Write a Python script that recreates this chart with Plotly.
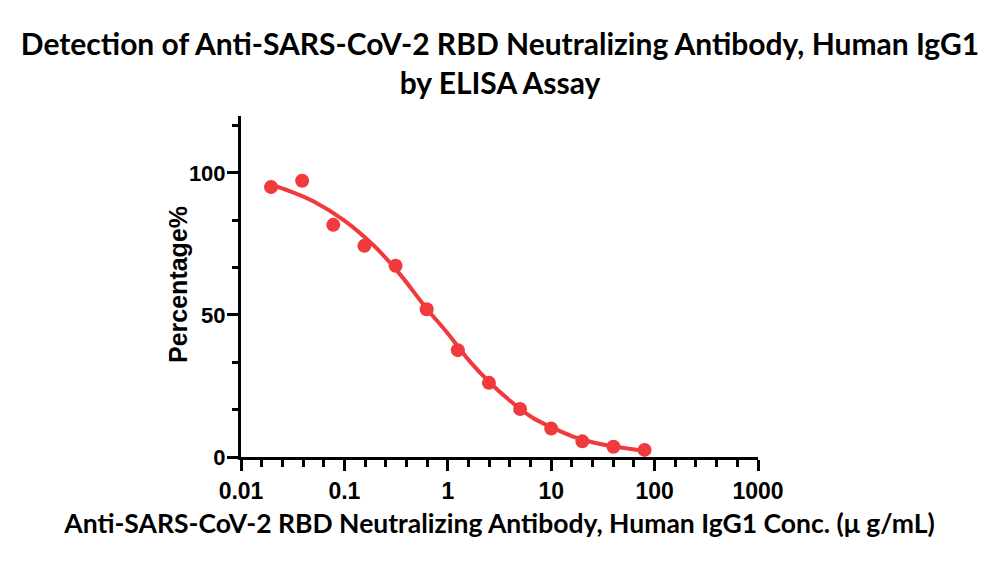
import plotly.graph_objects as go

# Measured data (concentration in µg/mL, percentage)
conc = [0.0195, 0.039, 0.078, 0.156, 0.3125, 0.625, 1.25, 2.5, 5, 10, 20, 40, 80]
pct = [95.0, 97.2, 81.7, 74.3, 67.3, 52.0, 37.6, 26.1, 16.9, 10.0, 5.5, 3.6, 2.5]

# Fitted curve
curve_x = [0.0195, 0.03, 0.05, 0.1, 0.2, 0.35, 0.6, 1.0, 1.6, 2.5, 4.0, 6.5, 10, 16, 25, 40, 80]
curve_y = [95.8, 93.5, 90.0, 83.2, 73.8, 64.0, 53.0, 43.5, 34.0, 26.5, 19.8, 14.0, 10.5, 7.3, 5.2, 3.7, 2.2]

x_tickvals = [0.01, 0.1, 1, 10, 100, 1000]
x_ticktext = ["0.01", "0.1", "1", "10", "100", "1000"]
y_tickvals = [0, 50, 100]

title_text = "Detection of Anti-SARS-CoV-2 RBD Neutralizing Antibody, Human IgG1<br>by ELISA Assay"
x_title = "Anti-SARS-CoV-2 RBD Neutralizing Antibody, Human IgG1 Conc. (\u03bc g/mL)"
y_title = "Percentage%"

red = "#F03A3E"
calib = "Lato, Carlito, Calibri, sans-serif"
arial = "Liberation Sans, Arial, sans-serif"
xtickfont = dict(family=arial, size=23, color="black", weight="bold")
ytickfont = dict(family=arial, size=22, color="black", weight="bold")

W, H = 992, 556  # page body adds an 8px margin
L, R, T, B = 233, 242, 108, 107
plot_w, plot_h = W - L - R, H - T - B

fig = go.Figure()
fig.add_trace(go.Scatter(x=curve_x, y=curve_y, mode="lines",
                         line=dict(color=red, width=4, shape="spline"),
                         hoverinfo="skip", showlegend=False))
fig.add_trace(go.Scatter(x=conc, y=pct, mode="markers",
                         marker=dict(color=red, size=14, line=dict(width=0)),
                         showlegend=False))

fig.update_layout(
    width=W, height=H,
    margin=dict(l=L, r=R, t=T, b=B),
    paper_bgcolor="white", plot_bgcolor="white",
    title=dict(text="<b>" + title_text + "</b>", x=492 / W, xanchor="center",
               y=1 - 47 / H, yanchor="top",
               font=dict(family=calib, size=30, color="black")),
)

fig.add_annotation(
    text="<b>" + y_title + "</b>", textangle=-90,
    xref="paper", yref="paper",
    x=(170 - L) / plot_w, y=(H - B - 277) / plot_h,
    xanchor="center", yanchor="middle", showarrow=False,
    font=dict(family=arial, size=25, color="black"),
)

fig.update_xaxes(
    type="log", range=[-2, 3],
    tickvals=x_tickvals, ticktext=x_ticktext,
    showgrid=False, zeroline=False,
    showline=True, linecolor="black", linewidth=3,
    ticks="outside", ticklen=11, tickwidth=3, tickcolor="black",
    tickfont=xtickfont,
    minor=dict(dtick=0.2, tick0=0, ticks="outside", ticklen=7, tickwidth=3,
               tickcolor="black", showgrid=False),
    title=dict(text="<b>" + x_title + "</b>",
               font=dict(family=calib, size=26.5, color="black"), standoff=12),
)
fig.update_yaxes(
    range=[0, 120],
    tickvals=y_tickvals,
    showgrid=False, zeroline=False,
    showline=True, linecolor="black", linewidth=3,
    ticks="outside", ticklen=11, tickwidth=3, tickcolor="black",
    tickfont=ytickfont, ticklabelstandoff=-3,
    minor=dict(dtick=50 / 3, tick0=0, ticks="outside", ticklen=6, tickwidth=3,
               tickcolor="black", showgrid=False),
)

fig.write_html("out.html")
